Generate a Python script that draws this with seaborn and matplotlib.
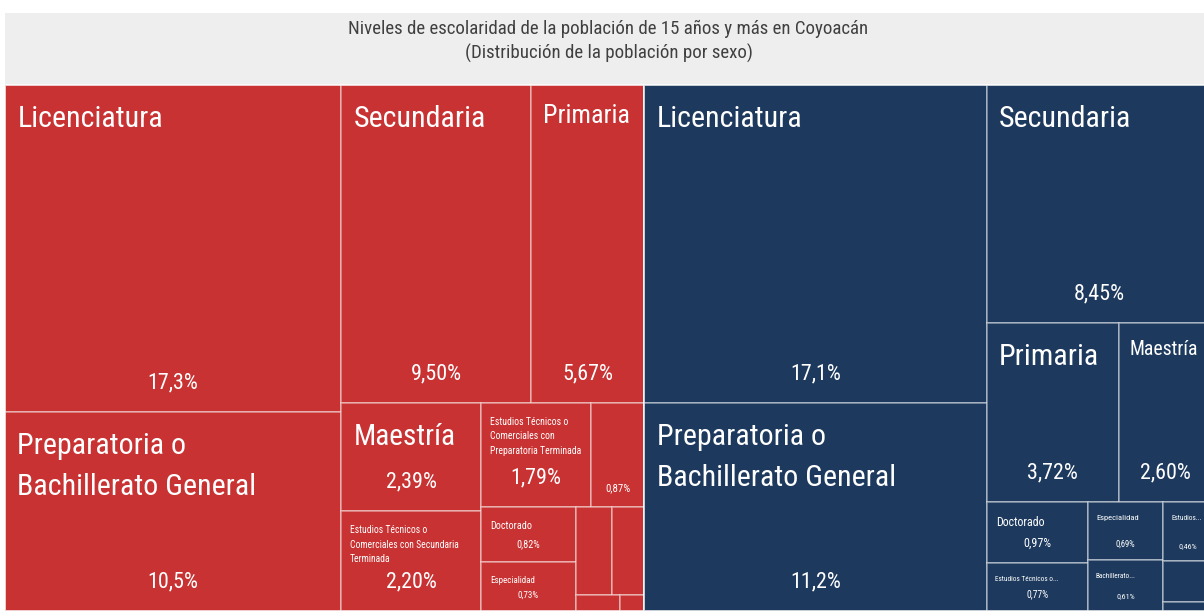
import matplotlib
matplotlib.use("Agg")
import matplotlib.pyplot as plt
from matplotlib.patches import Rectangle
from matplotlib import font_manager
import seaborn as sns

# ---- data (porcentaje de la población de 15 años y más) ----
sexes = ["Mujeres", "Hombres"]
sex_colors = ["#C83232", "#1D3A5E"]

women_levels = ["Licenciatura", "Preparatoria o Bachillerato General", "Secundaria", "Primaria",
                "Maestría", "Estudios Técnicos o Comerciales con Secundaria Terminada",
                "Estudios Técnicos o Comerciales con Preparatoria Terminada",
                "Bachillerato Tecnológico", "Doctorado", "Especialidad",
                "Normal de Licenciatura", "Sin Escolaridad",
                "Estudios Técnicos o Comerciales con Primaria Terminada", "Preescolar"]
women_pct = [17.3, 10.5, 9.50, 5.67, 2.39, 2.20, 1.79, 0.87, 0.82, 0.73, 0.51, 0.45, 0.11, 0.06]

men_levels = ["Licenciatura", "Preparatoria o Bachillerato General", "Secundaria", "Primaria",
              "Maestría", "Doctorado", "Estudios Técnicos o Comerciales con Secundaria Terminada",
              "Especialidad", "Bachillerato Tecnológico",
              "Estudios Técnicos o Comerciales con Preparatoria Terminada",
              "Sin Escolaridad", "Normal de Licenciatura"]
men_pct = [17.1, 11.2, 8.45, 3.72, 2.60, 0.97, 0.77, 0.69, 0.61, 0.46, 0.31, 0.07]

title_lines = ["Niveles de escolaridad de la población de 15 años y más en Coyoacán",
               "(Distribución de la población por sexo)"]

levels = [women_levels, men_levels]
pcts = [women_pct, men_pct]

# ---- style ----
sns.set_theme(style="white")


def pick_font(cands):
    for c in cands:
        try:
            font_manager.findfont(font_manager.FontProperties(family=c), fallback_to_default=False)
            return c
        except Exception:
            pass
    return "DejaVu Sans"


FONT = pick_font(["Roboto Condensed", "Liberation Sans Narrow", "Noto Sans Condensed",
                  "Open Sans Condensed", "Roboto", "DejaVu Sans"])
plt.rcParams["font.family"] = [FONT, "DejaVu Sans"]

W_PX, H_PX, DPI = 1204, 613, 100
PT = 72 / DPI
LSP = 1.58

fig = plt.figure(figsize=(W_PX / DPI, H_PX / DPI), dpi=DPI)
ax = fig.add_axes([0, 0, 1, 1])
ax.set_xlim(0, W_PX)
ax.set_ylim(H_PX, 0)
ax.axis("off")
renderer = fig.canvas.get_renderer()


def text_w(s, px):
    prop = font_manager.FontProperties(family=FONT, size=px * PT)
    return renderer.get_text_width_height_descent(s, prop, ismath=False)[0]


# sizes scaled so that the font gives the same text widths as the original
f_name = 146 / text_w("Licenciatura", 33)
f_pct = 51 / text_w("17,3%", 22)
NAME_MAX = 33 * f_name
PCT_MAX = 22 * f_pct
NAME_MIN = 8 * f_name
PCT_MIN = 8 * f_pct
NAME_AREA = 470 / f_name
PCT_AREA = 510 / f_pct
TITLE_PX = 20 * 522 / text_w(title_lines[0], 20)


def fmt(v):
    s = f"{v:.1f}" if v >= 10 else f"{v:.2f}"
    return s.replace(".", ",") + "%"


def squarify(values, x, y, w, h, limit=3.0):
    total = sum(values)
    areas = [v * w * h / total for v in values]
    rects = []
    i = 0
    while i < len(areas):
        horizontal = w < h
        side = w if horizontal else h

        def worst(strip):
            thick = sum(strip) / side
            return max(max(thick / (a / thick), (a / thick) / thick) for a in strip)

        strip = [areas[i]]
        j = i + 1
        while j < len(areas) and worst(strip + [areas[j]]) <= max(worst(strip), limit):
            strip.append(areas[j])
            j += 1
        thick = sum(strip) / side
        pos = x if horizontal else y
        for a in strip:
            ln = a / thick
            rects.append((pos, y, ln, thick) if horizontal else (x, pos, thick, ln))
            pos += ln
        if horizontal:
            y += thick
            h -= thick
        else:
            x += thick
            w -= thick
        i = j
    return rects


def wrap(name, px, avail):
    lines, cur = [], ""
    for word in name.split():
        if text_w(word, px) > avail:
            return None
        test = (cur + " " + word).strip()
        if text_w(test, px) <= avail:
            cur = test
        else:
            lines.append(cur)
            cur = word
    lines.append(cur)
    return lines


def fit_name(name, x, y, w, h, limit):
    s = min(NAME_MAX, w * h / NAME_AREA)
    while s >= NAME_MIN:
        pad = 7 + 0.18 * s
        top = y + 11 + 0.3 * s
        lines = wrap(name, s, w - 2 * pad - 0.1 * s)
        if lines and top + s * (1 + (len(lines) - 1) * LSP) <= limit:
            return s, lines, top, pad
        s -= 0.25
    if w < 45 or h < 44:
        return None
    s = NAME_MIN
    pad = 7 + 0.18 * s
    top = y + 11 + 0.3 * s
    words = name.split()
    for k in range(len(words) - 1, 0, -1):
        cand = " ".join(words[:k]) + "..."
        if text_w(cand, s) <= w - 2 * pad - 0.1 * s and top + s <= limit + 2:
            return s, [cand], top, pad
    return None


# title band
TX, TY, TW, TH = 5, 85, 1207, 526
ax.add_patch(Rectangle((5, 13), W_PX - 5, TY - 13, facecolor="#EEEEEE", edgecolor="none"))
ax.text(TX + TW / 2, 29, title_lines[0], ha="center", va="center",
        fontsize=TITLE_PX * PT, color="#404040")
ax.text(TX + TW / 2, 53, title_lines[1], ha="center", va="center",
        fontsize=TITLE_PX * PT, color="#404040")

group_rects = squarify([sum(p) for p in pcts], TX, TY, TW, TH)
for (gx, gy, gw, gh), names, vals, color in zip(group_rects, levels, pcts, sex_colors):
    for (x, y, w, h), name, v in zip(squarify(vals, gx, gy, gw, gh), names, vals):
        ax.add_patch(Rectangle((x, y), w, h, facecolor=color,
                               edgecolor=(1, 1, 1, 0.5), linewidth=1.5 * PT))
        # percentage
        label = fmt(v)
        raw = w * h / PCT_AREA
        ps = max(min(PCT_MAX, raw), PCT_MIN)
        while ps > PCT_MIN and text_w(label, ps) > w - 24:
            ps -= 0.25
        limit = y + h - 8
        if raw >= 5 * f_pct and text_w(label, ps) <= w - 24:
            cy = y + h - (ps / f_pct + 7)
            ax.text(x + w / 2, cy, label, ha="center", va="center",
                    fontsize=ps * PT, color="white")
            limit = cy - 0.6 * ps - 3
        # name
        fit = fit_name(name, x, y, w, h, limit)
        if fit:
            s, lines, top, pad = fit
            ax.text(x + pad, top, "\n".join(lines), ha="left", va="top",
                    fontsize=s * PT, color="white", linespacing=LSP)
    ax.add_patch(Rectangle((gx, gy), gw, gh, facecolor="none",
                           edgecolor=(1, 1, 1, 0.6), linewidth=2 * PT))

fig.savefig("out.png", dpi=DPI, facecolor="white")
